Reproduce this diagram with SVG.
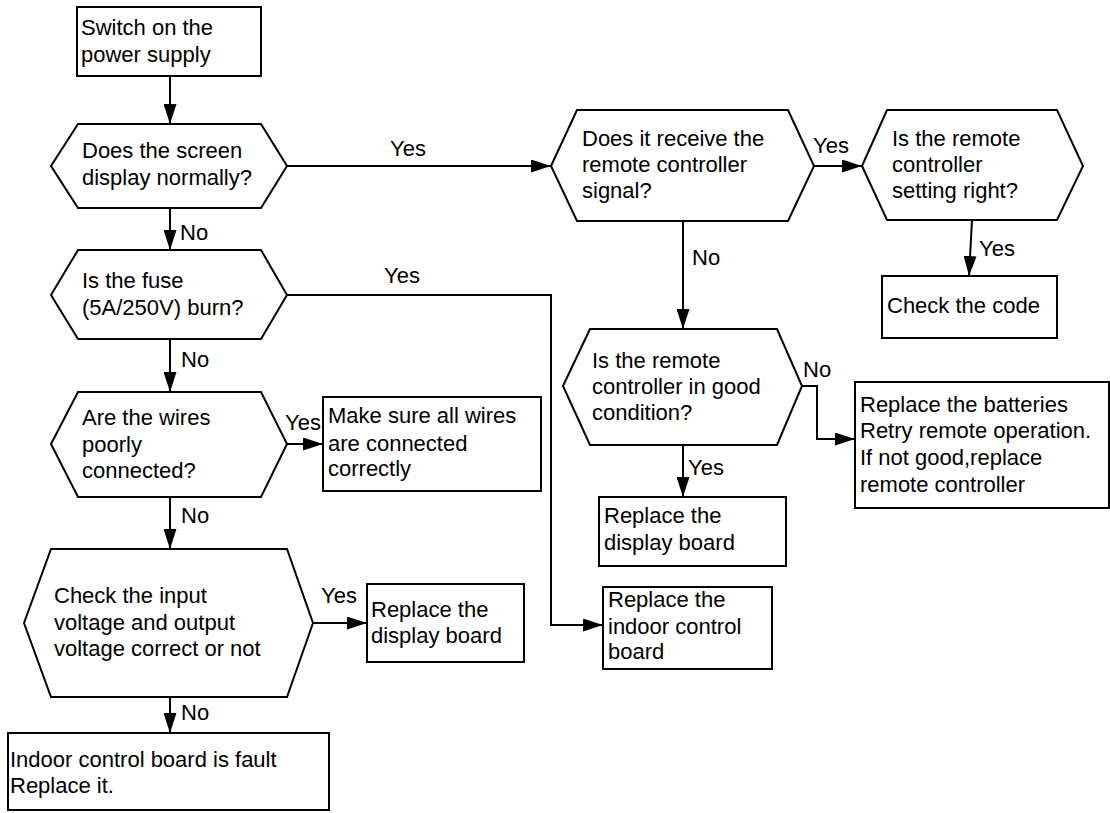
<svg xmlns="http://www.w3.org/2000/svg" width="1110" height="813" viewBox="0 0 1110 813">
<style>
.s{fill:#fff;stroke:#000;stroke-width:2}
.t{font-family:"Liberation Sans",Arial,sans-serif;font-size:22px;fill:#000}
.c{fill:none;stroke:#000;stroke-width:2}
</style>
<defs>
<marker id="a" markerUnits="userSpaceOnUse" markerWidth="20" markerHeight="13" refX="20" refY="6.5" orient="auto">
<path d="M0,0 L20,6.5 L0,13 z" fill="#000"/>
</marker>
</defs>
<rect width="1110" height="813" fill="#fff"/>
<g id="connectors">
<path class="c" d="M170,76 V124" marker-end="url(#a)"/>
<path class="c" d="M170,208 V250" marker-end="url(#a)"/>
<path class="c" d="M170,339 V392" marker-end="url(#a)"/>
<path class="c" d="M170,497 V549" marker-end="url(#a)"/>
<path class="c" d="M170,697 V733" marker-end="url(#a)"/>
<path class="c" d="M287,166 H551" marker-end="url(#a)"/>
<path class="c" d="M287,295 H551 V625 H603" marker-end="url(#a)"/>
<path class="c" d="M287,444 H323" marker-end="url(#a)"/>
<path class="c" d="M313,623 H367" marker-end="url(#a)"/>
<path class="c" d="M814,166 H862" marker-end="url(#a)"/>
<path class="c" d="M683,221 V329" marker-end="url(#a)"/>
<path class="c" d="M972,220 L969,276" marker-end="url(#a)"/>
<path class="c" d="M802,386 H817 V439 H855" marker-end="url(#a)"/>
<path class="c" d="M683,445 V497" marker-end="url(#a)"/>
<text class="t" x="180" y="240">No</text>
<text class="t" x="181" y="367">No</text>
<text class="t" x="181" y="523">No</text>
<text class="t" x="181" y="720">No</text>
<text class="t" x="390" y="156">Yes</text>
<text class="t" x="384" y="283">Yes</text>
<text class="t" x="285" y="430">Yes</text>
<text class="t" x="321" y="603">Yes</text>
<text class="t" x="813" y="153">Yes</text>
<text class="t" x="692" y="265">No</text>
<text class="t" x="979" y="256">Yes</text>
<text class="t" x="803" y="377">No</text>
<text class="t" x="688" y="475">Yes</text>
</g>
<g id="start">
<rect class="s" x="77" y="7" width="184" height="69"/>
<text class="t" x="81" y="35">Switch on the</text>
<text class="t" x="81" y="62">power supply</text>
</g>
<g id="d1">
<polygon class="s" points="51,166 78,124 261,124 287,166 261,208 78,208"/>
<text class="t" x="82" y="158">Does the screen</text>
<text class="t" x="82" y="185">display normally?</text>
</g>
<g id="d2">
<polygon class="s" points="51,295 78,250 261,250 287,295 261,339 78,339"/>
<text class="t" x="82" y="288">Is the fuse</text>
<text class="t" x="82" y="315">(5A/250V) burn?</text>
</g>
<g id="d3">
<polygon class="s" points="51,444 78,392 261,392 287,444 261,497 78,497"/>
<text class="t" x="82" y="425">Are the wires</text>
<text class="t" x="82" y="452">poorly</text>
<text class="t" x="82" y="478">connected?</text>
</g>
<g id="d4">
<polygon class="s" points="24,623 51,549 287,549 313,623 287,697 51,697"/>
<text class="t" x="54" y="603">Check the input</text>
<text class="t" x="54" y="630">voltage and output</text>
<text class="t" x="54" y="656">voltage correct or not</text>
</g>
<g id="final">
<rect class="s" x="8" y="733" width="321" height="77"/>
<text class="t" x="10" y="767">Indoor control board is fault</text>
<text class="t" x="10" y="793">Replace it.</text>
</g>
<g id="wires">
<rect class="s" x="323" y="397" width="218" height="94"/>
<text class="t" x="328" y="423">Make sure all wires</text>
<text class="t" x="328" y="451">are connected</text>
<text class="t" x="328" y="476">correctly</text>
</g>
<g id="displayLeft">
<rect class="s" x="367" y="584" width="157" height="78"/>
<text class="t" x="371" y="617">Replace the</text>
<text class="t" x="371" y="643">display board</text>
</g>
<g id="indoor">
<rect class="s" x="603" y="587" width="169" height="82"/>
<text class="t" x="608" y="607">Replace the</text>
<text class="t" x="608" y="634">indoor control</text>
<text class="t" x="608" y="659">board</text>
</g>
<g id="rc">
<polygon class="s" points="551,166 577,110 788,110 814,166 788,221 577,221"/>
<text class="t" x="582" y="146">Does it receive the</text>
<text class="t" x="582" y="172">remote controller</text>
<text class="t" x="582" y="198">signal?</text>
</g>
<g id="rs">
<polygon class="s" points="862,166 887,110 1057,110 1083,166 1057,220 887,220"/>
<text class="t" x="892" y="146">Is the remote</text>
<text class="t" x="892" y="172">controller</text>
<text class="t" x="892" y="198">setting right?</text>
</g>
<g id="code">
<rect class="s" x="882" y="276" width="175" height="62"/>
<text class="t" x="887" y="313">Check the code</text>
</g>
<g id="rg">
<polygon class="s" points="563,386 590,329 777,329 802,386 777,445 590,445"/>
<text class="t" x="592" y="368">Is the remote</text>
<text class="t" x="592" y="394">controller in good</text>
<text class="t" x="592" y="420">condition?</text>
</g>
<g id="displayRight">
<rect class="s" x="599" y="497" width="187" height="69"/>
<text class="t" x="604" y="523">Replace the</text>
<text class="t" x="604" y="550">display board</text>
</g>
<g id="batteries">
<rect class="s" x="855" y="382" width="254" height="126"/>
<text class="t" x="860" y="412">Replace the batteries</text>
<text class="t" x="860" y="438">Retry remote operation.</text>
<text class="t" x="860" y="465">If not good,replace</text>
<text class="t" x="860" y="492">remote controller</text>
</g>
</svg>
